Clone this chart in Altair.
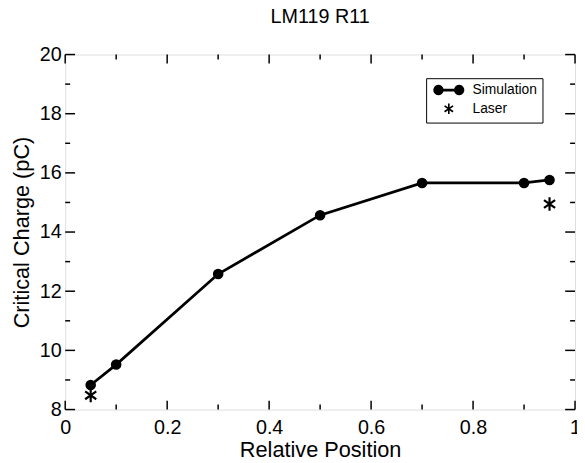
import math
import altair as alt
import pandas as pd

# ---- data ----
chart_title = ["LM119 R11"]
sim_x = [0.05, 0.1, 0.3, 0.5, 0.7, 0.9, 0.95]
sim_y = [8.83, 9.52, 12.58, 14.57, 15.66, 15.66, 15.76]
laser_x = [0.05, 0.95]
laser_y = [8.48, 14.95]

series_names = ["Simulation", "Laser"]
x_major = [0, 0.2, 0.4, 0.6, 0.8, 1.0]
x_minor = [0.1, 0.3, 0.5, 0.7, 0.9]
y_major = [8, 10, 12, 14, 16, 18, 20]
y_minor = [9, 11, 13, 15, 17, 19]

W, H = 517, 360
FONT = "Liberation Sans"

sim_df = pd.DataFrame({"x": sim_x, "y": sim_y})
laser_df = pd.DataFrame({"x": laser_x, "y": laser_y, "series": ["Laser"] * len(laser_x)})
xmaj_df = pd.DataFrame({"x": x_major})
xmin_df = pd.DataFrame({"x": x_minor})
ymaj_df = pd.DataFrame({"y": y_major})
ymin_df = pd.DataFrame({"y": y_minor})
title_df = pd.DataFrame({"t": chart_title})


# ---- symbol shapes (filled outlines, unit coordinates) ----
def f(v):
    return f"{v:.3f}"


def bar(angle_deg, length, half_t):
    c, s = math.cos(math.radians(angle_deg)), math.sin(math.radians(angle_deg))
    dx, dy = c * length, s * length
    nx, ny = -s * half_t, c * half_t
    pts = [(-dx - nx, -dy - ny), (dx - nx, dy - ny), (dx + nx, dy + ny), (-dx + nx, -dy + ny)]
    return "M" + "L".join(f"{f(px)},{f(py)}" for px, py in pts) + "Z"


def poly_circle(cx, r, n=20):
    pts = [(cx + r * math.cos(2 * math.pi * k / n), r * math.sin(2 * math.pi * k / n)) for k in range(n)]
    return "M" + "L".join(f"{f(px)},{f(py)}" for px, py in pts) + "Z"


star_path = bar(90, 1, 0.16) + bar(35, 1, 0.16) + bar(-35, 1, 0.16)
sim_path = poly_circle(-2, 1) + poly_circle(2, 1) + "M-2,-0.26L2,-0.26L2,0.26L-2,0.26Z"

xscale = alt.Scale(domain=[0, 1], nice=False, zero=False)
yscale = alt.Scale(domain=[8, 20], nice=False, zero=False)

xaxis = alt.Axis(
    title="Relative Position", values=x_major, format="~g", ticks=False, domain=False,
    grid=False, labelFlush=False, labelOverlap=False, labelFontSize=20, labelPadding=8,
    labelColor="black", titleFontSize=22, titleFontWeight="normal", titleColor="black",
    titlePadding=3, labelFont=FONT, titleFont=FONT,
)
yaxis = alt.Axis(
    title="Critical Charge (pC)", values=y_major, format="d", ticks=False, domain=False,
    grid=False, labelFlush=False, labelOverlap=False, labelFontSize=20, labelPadding=4,
    labelColor="black", titleFontSize=22, titleFontWeight="normal", titleColor="black",
    titlePadding=6, labelFont=FONT, titleFont=FONT,
)

X = alt.X("x:Q", scale=xscale, axis=xaxis)
Y = alt.Y("y:Q", scale=yscale, axis=yaxis)

line = alt.Chart(sim_df).mark_line(color="black", strokeWidth=2.8).encode(x=X, y=Y)
dots = alt.Chart(sim_df).mark_circle(color="black", size=115, opacity=1).encode(x=X, y=Y)

stars = alt.Chart(laser_df).mark_point(
    filled=True, color="black", size=190, opacity=1
).encode(
    x=X, y=Y,
    shape=alt.Shape(
        "series:N",
        scale=alt.Scale(domain=series_names, range=[sim_path, star_path]),
        legend=alt.Legend(
            title=None, orient="none", legendX=366, legendY=24, padding=5,
            strokeColor="black", fillColor="white", cornerRadius=0,
            symbolOffset=11, labelOffset=17, labelFontSize=14, labelFont=FONT,
            labelColor="black", symbolSize=110, rowPadding=1,
        ),
    ),
)

title_text = alt.Chart(title_df).mark_text(
    font=FONT, fontSize=20, color="black", align="center", baseline="alphabetic"
).encode(text="t:N", x=alt.value(W / 2), y=alt.value(-32))

tick_w = 1.5
xt_bot_major = alt.Chart(xmaj_df).mark_rule(color="black", strokeWidth=tick_w).encode(
    x=X, y=alt.value(H), y2=alt.value(H - 9))
xt_top_major = alt.Chart(xmaj_df).mark_rule(color="black", strokeWidth=tick_w).encode(
    x=X, y=alt.value(0), y2=alt.value(9))
xt_bot_minor = alt.Chart(xmin_df).mark_rule(color="black", strokeWidth=tick_w).encode(
    x=X, y=alt.value(H), y2=alt.value(H - 5))
xt_top_minor = alt.Chart(xmin_df).mark_rule(color="black", strokeWidth=tick_w).encode(
    x=X, y=alt.value(0), y2=alt.value(5))
yt_l_major = alt.Chart(ymaj_df).mark_rule(color="black", strokeWidth=tick_w).encode(
    y=Y, x=alt.value(0), x2=alt.value(10))
yt_r_major = alt.Chart(ymaj_df).mark_rule(color="black", strokeWidth=tick_w).encode(
    y=Y, x=alt.value(W), x2=alt.value(W - 10))
yt_l_minor = alt.Chart(ymin_df).mark_rule(color="black", strokeWidth=tick_w).encode(
    y=Y, x=alt.value(0), x2=alt.value(5))
yt_r_minor = alt.Chart(ymin_df).mark_rule(color="black", strokeWidth=tick_w).encode(
    y=Y, x=alt.value(W), x2=alt.value(W - 5))

chart = alt.layer(
    xt_bot_major, xt_top_major, xt_bot_minor, xt_top_minor,
    yt_l_major, yt_r_major, yt_l_minor, yt_r_minor,
    line, dots, stars, title_text,
).properties(
    width=W, height=H,
    autosize=alt.AutoSizeParams(type="none"),
    padding={"left": 58, "top": 44, "right": 2, "bottom": 50},
).configure_view(
    stroke="black", strokeWidth=2
).configure(
    font=FONT, background="white"
)

chart.save("out.html", embed_options={"renderer": "svg", "actions": False})
